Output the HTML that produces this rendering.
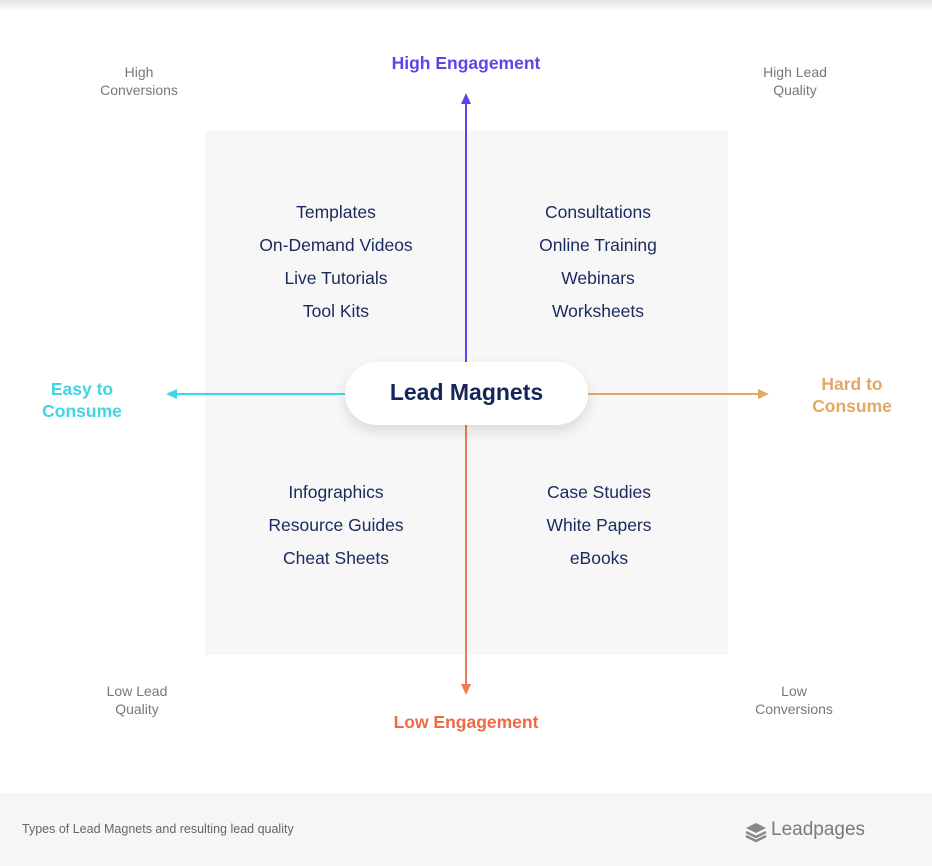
<!DOCTYPE html>
<html><head><meta charset="utf-8"><style>
body{margin:0;width:932px;height:866px;position:relative;background:#fff;font-family:"Liberation Sans",sans-serif;overflow:hidden}
.t{position:absolute;text-align:center;white-space:nowrap}
.topsh{position:absolute;left:0;top:0;width:932px;height:12px;background:linear-gradient(#e4e4e4,#fff)}
.sq{position:absolute;left:205px;top:131px;width:523px;height:524px;background:#f7f7f7}
.list{position:absolute;color:#1a2a5e;font-size:17.5px;line-height:33px;text-align:center;width:240px}
.corner{position:absolute;color:#777;font-size:14px;line-height:18px;text-align:center;width:140px}
.foot{position:absolute;left:0;top:793px;width:932px;height:73px;background:#f6f6f6}
</style></head><body>
<div class="topsh"></div>
<div class="sq"></div>
<svg style="position:absolute;left:0;top:0" width="932" height="866">
<line x1="466" y1="102" x2="466" y2="394" stroke="#5b47e8" stroke-width="2"/>
<polygon points="466,93 461,104 471,104" fill="#5b47e8"/>
<line x1="466" y1="394" x2="466" y2="686" stroke="#ee7a55" stroke-width="2"/>
<polygon points="466,695 461,684 471,684" fill="#ee7a55"/>
<line x1="175" y1="394" x2="466" y2="394" stroke="#3fd6e3" stroke-width="2"/>
<polygon points="166,394 177,389 177,399" fill="#3fd6e3"/>
<line x1="466" y1="394" x2="760" y2="394" stroke="#e4a865" stroke-width="2"/>
<polygon points="769,394 758,389 758,399" fill="#e4a865"/>
</svg>
<div style="position:absolute;left:345px;top:362px;width:243px;height:63px;border-radius:32px;background:#fff;box-shadow:0 6px 14px rgba(0,0,0,0.12)"></div>
<div class="t" style="left:345px;top:379px;width:243px;font-size:23px;color:#15245a;font-weight:bold">Lead Magnets</div>
<div class="t" style="left:366px;top:53px;width:200px;font-size:17.5px;color:#5b47e8;font-weight:bold">High Engagement</div>
<div class="t" style="left:366px;top:712px;width:200px;font-size:17.5px;color:#ee6a45;font-weight:bold">Low Engagement</div>
<div class="t" style="left:22px;top:378px;width:120px;font-size:17.5px;line-height:22px;color:#3fd6e3;font-weight:bold">Easy to<br>Consume</div>
<div class="t" style="left:792px;top:373px;width:120px;font-size:17.5px;line-height:22px;color:#e4a865;font-weight:bold">Hard to<br>Consume</div>
<div class="corner" style="left:69px;top:63px">High<br>Conversions</div>
<div class="corner" style="left:725px;top:63px">High Lead<br>Quality</div>
<div class="corner" style="left:67px;top:682px">Low Lead<br>Quality</div>
<div class="corner" style="left:724px;top:682px">Low<br>Conversions</div>
<div class="list" style="left:216px;top:196px">Templates<br>On-Demand Videos<br>Live Tutorials<br>Tool Kits</div>
<div class="list" style="left:478px;top:196px">Consultations<br>Online Training<br>Webinars<br>Worksheets</div>
<div class="list" style="left:216px;top:476px">Infographics<br>Resource Guides<br>Cheat Sheets</div>
<div class="list" style="left:479px;top:476px">Case Studies<br>White Papers<br>eBooks</div>
<div class="foot"></div>
<div class="t" style="left:22px;top:822px;font-size:12.5px;color:#666">Types of Lead Magnets and resulting lead quality</div>
<svg style="position:absolute;left:743px;top:821px" width="26" height="22" viewBox="0 0 26 22">
<polygon points="13,2 23,7 13,12 3,7" fill="#888"/>
<polyline points="3,11 13,16 23,11" fill="none" stroke="#888" stroke-width="2.5"/>
<polyline points="3,15 13,20 23,15" fill="none" stroke="#888" stroke-width="2.5"/>
</svg>
<div class="t" style="left:771px;top:819px;font-size:19px;color:#7a7a7a">Leadpages</div>
</body></html>
